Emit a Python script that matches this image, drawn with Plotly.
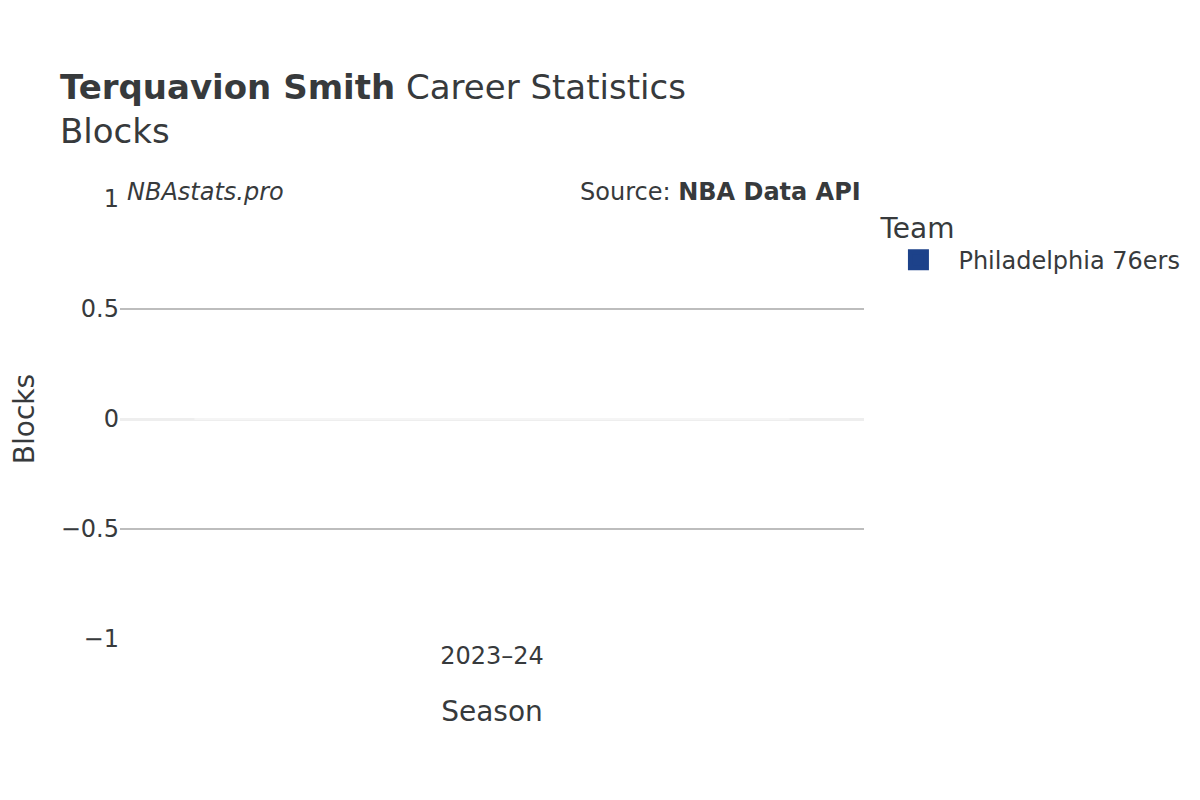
import plotly.graph_objects as go

# --------------------
# Data
# --------------------
seasons = ["2023–24"]
blocks = [0]
team = "Philadelphia 76ers"
team_color = "#1D428A"

fig = go.Figure()
fig.add_trace(
    go.Bar(
        x=seasons,
        y=blocks,
        name=team,
        legendgroup=team,
        showlegend=False,
        marker=dict(color=team_color, line=dict(color="rgba(255,255,255,0.5)", width=1)),
    )
)
# legend entry with a larger swatch
fig.add_trace(
    go.Scatter(
        x=[None],
        y=[None],
        mode="markers",
        name=team,
        legendgroup=team,
        marker=dict(symbol="square", size=16, color=team_color,
                    line=dict(color=team_color, width=5)),
    )
)

text_color = "#373a3c"

fig.update_layout(
    width=1200,
    height=800,
    template="plotly_white",
    font=dict(family="DejaVu Sans", color=text_color, size=24),
    title=dict(
        text="<b>Terquavion Smith</b> Career Statistics<br>Blocks",
        x=0.0433,
        xanchor="left",
        y=0.886,
        font=dict(size=34),
    ),
    margin=dict(l=112, r=344, t=191, b=169),
    legend=dict(
        title=dict(text="Team", font=dict(size=28)),
        font=dict(size=24),
        itemwidth=70,
        x=1.0194,
        y=0.995,
        xanchor="left",
        yanchor="top",
    ),
    xaxis=dict(title=dict(text="Season", font=dict(size=28), standoff=32),
               showgrid=False, automargin=False),
    yaxis=dict(
        title=dict(text="Blocks", font=dict(size=28), standoff=34),
        automargin=False,
        range=[-1, 1],
        dtick=0.5,
        gridcolor="#bdbdbd",
        gridwidth=2,
        zerolinecolor="#eeeeee",
        zerolinewidth=3,
    ),
    plot_bgcolor="white",
    paper_bgcolor="white",
)

fig.add_annotation(
    text="<i>NBAstats.pro</i>",
    xref="paper", yref="paper",
    x=0.007, y=1.016, xanchor="left", yanchor="middle",
    showarrow=False, font=dict(size=24),
)
fig.add_annotation(
    text="Source: <b>NBA Data API</b>",
    xref="paper", yref="paper",
    x=0.999, y=1.016, xanchor="right", yanchor="middle",
    showarrow=False, font=dict(size=24),
)

fig.write_html("out.html")
